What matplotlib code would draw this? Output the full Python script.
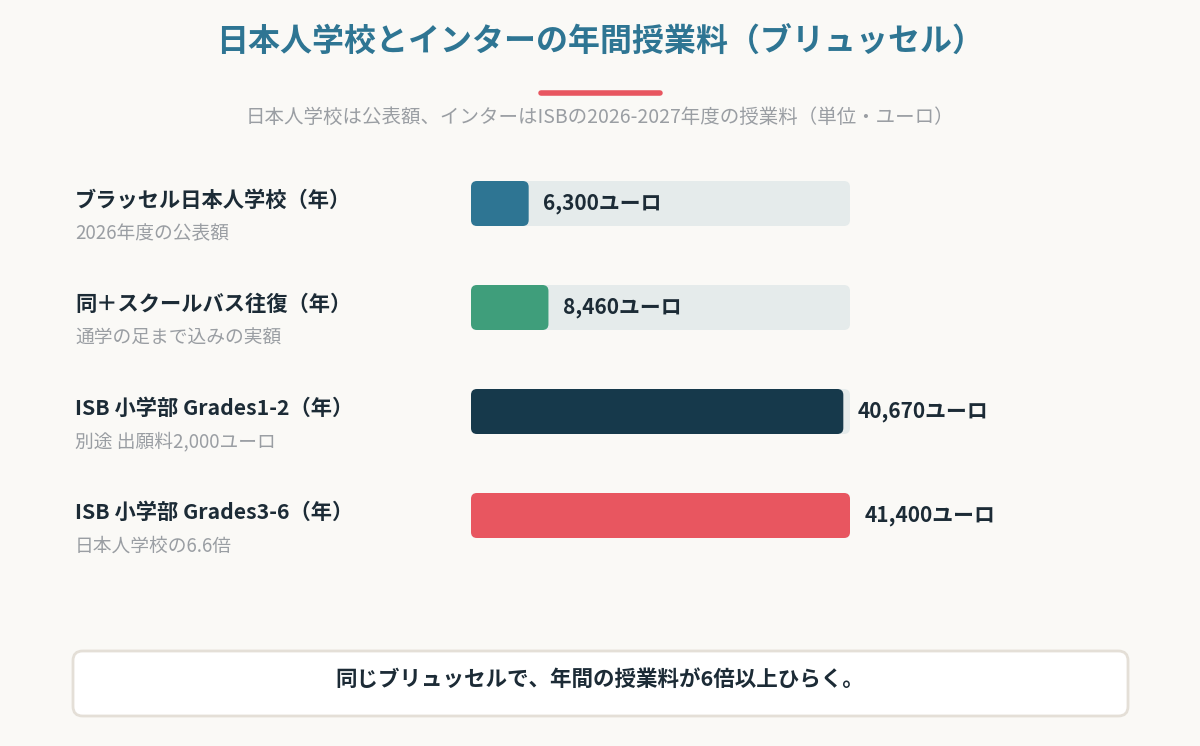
import matplotlib
matplotlib.use("Agg")
import matplotlib.pyplot as plt
from matplotlib.patches import FancyBboxPatch

plt.rcParams['font.family'] = ['Noto Sans CJK JP', 'DejaVu Sans']

# data
labels = ["ブラッセル日本人学校（年）", "同＋スクールバス往復（年）",
          "ISB 小学部 Grades1-2（年）", "ISB 小学部 Grades3-6（年）"]
notes = ["2026年度の公表額", "通学の足まで込みの実額",
         "別途 出願料2,000ユーロ", "日本人学校の6.6倍"]
fees = [6300, 8460, 40670, 41400]
colors = ["#2e7593", "#3f9e7b", "#16394b", "#e85660"]

title = "日本人学校とインターの年間授業料（ブリュッセル）"
subtitle = "日本人学校は公表額、インターはISBの2026-2027年度の授業料（単位・ユーロ）"
footer = "同じブリュッセルで、年間の授業料が6倍以上ひらく。"

W, H = 1200, 746
bg = "#faf9f6"
fig = plt.figure(figsize=(W / 100, H / 100), dpi=100)
fig.patch.set_facecolor(bg)

# bar axes: track from x=471px to 850px, rows 104px apart
ax = fig.add_axes([471 / W, 1 - 567.5 / H, 379 / W, 416 / H])
ax.set_facecolor("none")
xmax = max(fees)
ax.set_xlim(0, xmax)
ax.set_ylim(len(fees) - 0.5, -0.5)
ax.axis("off")

px_x = xmax / 379.0     # data units per pixel (x)
px_y = 1 / 104.0        # data units per pixel (y)
bar_h = 45 * px_y
rad = 6 * px_x
asp = px_y / px_x

for i, (v, c) in enumerate(zip(fees, colors)):
    track = FancyBboxPatch((0, i - bar_h / 2), xmax, bar_h,
                           boxstyle=f"round,pad=0,rounding_size={rad}",
                           mutation_aspect=asp, fc="#e5ebeb", ec="none",
                           clip_on=False)
    ax.add_patch(track)
    bar = FancyBboxPatch((0, i - bar_h / 2), v, bar_h,
                         boxstyle=f"round,pad=0,rounding_size={rad}",
                         mutation_aspect=asp, fc=c, ec="none", clip_on=False)
    ax.add_patch(bar)
    ax.annotate(f"{v:,}ユーロ", xy=(v, i), xytext=(10.5, 0),
                textcoords="offset points", ha="left", va="center",
                fontsize=15, fontweight="bold", color="#1c2b36",
                annotation_clip=False)
    ax.annotate(labels[i], xy=(75 / W, i), xycoords=("figure fraction", "data"),
                xytext=(0, 2), textcoords="offset points",
                ha="left", va="center", fontsize=15.3, fontweight="bold",
                color="#1c2b36", annotation_clip=False)
    ax.annotate(notes[i], xy=(75 / W, i), xycoords=("figure fraction", "data"),
                xytext=(0, -22), textcoords="offset points",
                ha="left", va="center", fontsize=13.5, color="#9a9ea3",
                annotation_clip=False)

# title block
fig.text(0.5, 1 - 43 / H, title, ha="center", va="center", fontsize=23,
         fontweight="bold", color="#2e7593")
fig.add_artist(plt.Line2D([541 / W, 660 / W], [1 - 93 / H, 1 - 93 / H],
                          color="#e85660", lw=4, solid_capstyle="round"))
fig.text(0.5, 1 - 117 / H, subtitle, ha="center", va="center", fontsize=14,
         color="#9a9ea3")

# footer box
box = FancyBboxPatch((73 / W, 1 - 716 / H), 1055 / W, 65 / H,
                     boxstyle="round,pad=0,rounding_size=0.008",
                     mutation_aspect=W / H, transform=fig.transFigure,
                     fc="white", ec="#e4dfd7", lw=2)
fig.add_artist(box)
fig.text(0.5, 1 - 679 / H, footer, ha="center", va="center", fontsize=15.5,
         fontweight="bold", color="#1c2b36")

fig.savefig("out.png", dpi=100, facecolor=bg)
